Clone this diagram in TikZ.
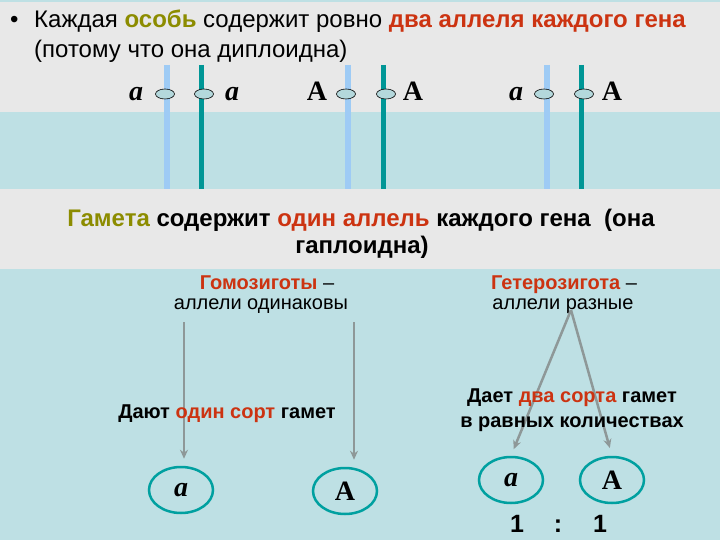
\documentclass[tikz,border=0pt]{standalone}
\usepackage{fontspec}
\setmainfont{Liberation Sans}
\newfontfamily\serif{Liberation Serif}
\usetikzlibrary{arrows.meta,shapes.geometric}
\definecolor{bggray}{HTML}{E8E8E8}
\definecolor{bgteal}{HTML}{BEE0E4}
\definecolor{lblue}{HTML}{9ECBF5}
\definecolor{tealbar}{HTML}{009696}
\definecolor{olivet}{HTML}{8C8C00}
\definecolor{redt}{HTML}{CC3311}
\definecolor{cent}{HTML}{B4D8DC}
\definecolor{arrgray}{HTML}{8E9898}
\definecolor{ringteal}{HTML}{00A0A0}
\tikzset{
  lbar/.style={lblue,line width=6pt},
  tbar/.style={tealbar,line width=5pt},
  centro/.style={ellipse,draw=black,line width=0.6pt,fill=cent,minimum width=19pt,minimum height=10pt,inner sep=0pt},
  allele/.style={font=\serif\fontsize{28}{28}\selectfont\bfseries,anchor=base,inner sep=0pt},
  gamete/.style={ellipse,draw=ringteal,line width=2.5pt,minimum width=64pt,minimum height=46pt,inner sep=0pt,font=\serif\fontsize{28}{28}\selectfont\bfseries},
  toptext/.style={font=\fontsize{24}{28}\selectfont,anchor=base west,inner sep=0pt},
  midtext/.style={font=\fontsize{24}{28}\selectfont\bfseries,anchor=base,inner sep=0pt},
  lowtext/.style={font=\fontsize{20}{24}\selectfont,anchor=base,inner sep=0pt},
  lowbold/.style={font=\fontsize{20}{24}\selectfont\bfseries,anchor=base,inner sep=0pt},
  ratio/.style={font=\fontsize{25}{25}\selectfont\bfseries,anchor=base,inner sep=0pt},
  garrow/.style={arrgray,line width=2.5pt,-{Stealth[length=9pt,width=8pt]}},
}
\begin{document}
\begin{tikzpicture}[x=1pt,y=-1pt]
\useasboundingbox (0,0) rectangle (720,540);
% backgrounds
\fill[bggray] (0,0) rectangle (720,540);
\fill[bgteal] (0,0) rectangle (720,2);
\fill[bgteal] (0,112) rectangle (720,189);
\fill[bgteal] (0,269) rectangle (720,540);
% chromosomes
\draw[lbar] (167,65) -- (167,189);
\draw[tbar] (201,65) -- (201,189);
\draw[lbar] (348,65) -- (348,189);
\draw[tbar] (383,65) -- (383,189);
\draw[lbar] (547,65) -- (547,189);
\draw[tbar] (581,65) -- (581,189);
\node[centro] (c1) at (165,94) {};
\node[centro] (c2) at (204,94) {};
\node[centro] (c3) at (346,94) {};
\node[centro] (c4) at (386,94) {};
\node[centro] (c5) at (544,94) {};
\node[centro] (c6) at (584,94) {};
\node[allele] (l1) at (136,101) {\itshape a};
\node[allele] (l2) at (232,101) {\itshape a};
\node[allele] (l3) at (317,101) {A};
\node[allele] (l4) at (413,101) {A};
\node[allele] (l5) at (516,101) {\itshape a};
\node[allele] (l6) at (612,101) {A};
% top text
\node[toptext] (bul) at (10,28) {•};
\node[toptext] (t1) at (34,28) {Каждая \textcolor{olivet}{\bfseries особь} содержит ровно \textcolor{redt}{\bfseries два аллеля каждого гена}};
\node[toptext] (t2) at (34,58) {(потому что она диплоидна)};
% middle text
\node[midtext] (m1) at (361,226) {\textcolor{olivet}{Гамета} содержит \textcolor{redt}{один аллель} каждого гена\ \ (она};
\node[midtext] (m2) at (362,254) {гаплоидна)};
% lower labels
\node[lowtext] (ho1) at (267,289) {\textcolor{redt}{\bfseries Гомозиготы} –};
\node[lowtext] (ho2) at (261,309) {аллели одинаковы};
\node[lowtext] (he1) at (564,289) {\textcolor{redt}{\bfseries Гетерозигота} –};
\node[lowtext] (he2) at (563,309) {аллели разные};
% gametes
\node[gamete] (g1) at (181,490) {\itshape a};
\node[gamete] (g2) at (345,491) {A};
\node[gamete] (g3) at (511,480) {\itshape a};
\node[gamete] (g4) at (612,480) {A};
% arrows
\coordinate (s1) at (184,322);
\coordinate (s2) at (354,322);
\coordinate (apex) at (571,310);
\draw[garrow,shorten >=7pt] (s1) -- (s1 |- g1.north);
\draw[garrow,shorten >=7pt] (s2) -- (s2 |- g2.north);
\draw[garrow,shorten >=7pt] (apex) -- (g3.north);
\draw[garrow,shorten >=8pt] (apex) -- (g4.north);
% lower texts over arrows
\node[lowbold] (d1) at (227,418) {Дают \textcolor{redt}{один сорт} гамет};
\node[lowbold] (d2) at (572,402) {Дает \textcolor{redt}{два сорта} гамет};
\node[lowbold] (d3) at (572,427) {в равных количествах};
\node[ratio] (r1) at (517,532) {1};
\node[ratio] (r2) at (558,532) {:};
\node[ratio] (r3) at (600,532) {1};
\end{tikzpicture}
\end{document}
